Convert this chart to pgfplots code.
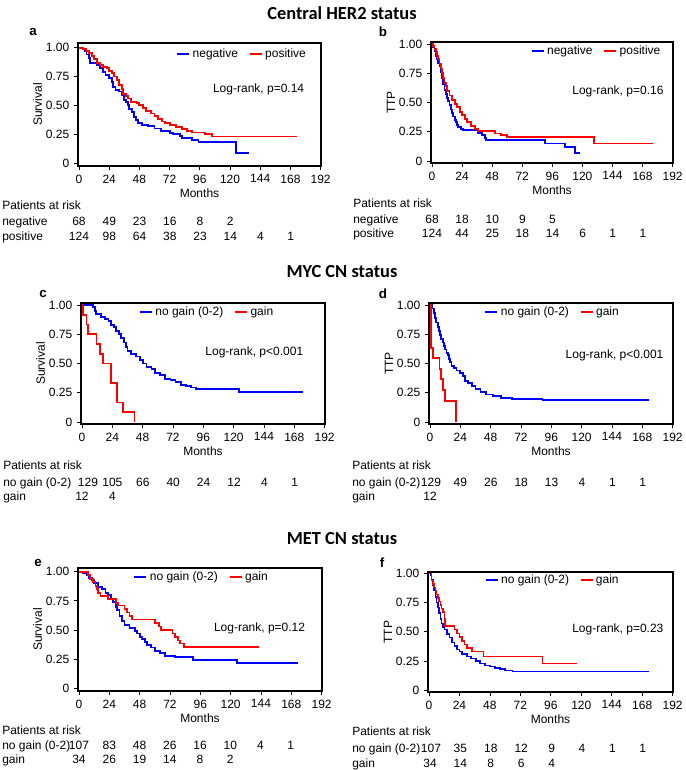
\documentclass[border=0pt]{standalone}
\usepackage{pgfplots}
\pgfplotsset{compat=1.18}
\usepackage{fontspec}
\setmainfont{Liberation Sans}
\newfontfamily\titlefont{Carlito}
\newcommand\tf{\fontsize{9}{10}\selectfont}

\pgfplotsset{km/.style={scale only axis, anchor=south west, const plot, no markers,
  xmin=-0.8, xmax=192.3, ymin=-0.025, ymax=1.04,
  xtick={0,24,...,192}, xticklabels={0,24,48,72,96,120,144,168,192},
  ytick={0,0.25,0.5,0.75,1}, yticklabels={0,0.25,0.50,0.75,1.00},
  tick align=outside, xtick pos=left, ytick pos=left, major tick length=3pt,
  axis line style={line width=0.9pt}, tick style={black,line width=0.6pt},
  tick label style={font=\tf}, label style={font=\tf}, xlabel=Months,
  ylabel shift=-4pt, xlabel shift=-3pt,
  legend cell align=left,
  legend style={draw=none, fill=none, font=\tf, legend columns=2, anchor=east, inner sep=0pt,
    /tikz/every even column/.append style={column sep=6pt}},
  legend image code/.code={\draw[#1] (0pt,0pt) -- (9pt,0pt);}}}

\newcommand\riskrow[4]{\foreach \v [count=\i from 0] in {#4}{\node[font=\tf,inner sep=0pt,text height=1.5ex,text depth=0.25ex] at ({#1+#2*\i},#3) {\v};}}
\newcommand\rlab[3]{\node[font=\tf,inner sep=0pt,anchor=west,text height=1.5ex,text depth=0.25ex] at (#1,#2) {#3};}

\begin{document}
\begin{tikzpicture}[x=0.75pt,y=-0.75pt]
\path[use as bounding box] (0,0) rectangle (685,770);

% section titles
\node[font=\titlefont\bfseries\fontsize{13.8}{15}\selectfont] at (342,13) {Central HER2 status};
\node[font=\titlefont\bfseries\fontsize{13.8}{15}\selectfont] at (342,272) {MYC CN status};
\node[font=\titlefont\bfseries\fontsize{13.8}{15}\selectfont] at (342,539) {MET CN status};

% panel letters
\node[font=\bfseries\fontsize{10}{12}\selectfont] at (33,32) {a};
\node[font=\bfseries\fontsize{10}{12}\selectfont] at (383,32) {b};
\node[font=\bfseries\fontsize{10}{12}\selectfont] at (43,294) {c};
\node[font=\bfseries\fontsize{10}{12}\selectfont] at (383,294) {d};
\node[font=\bfseries\fontsize{10}{12}\selectfont] at (38,563) {e};
\node[font=\bfseries\fontsize{10}{12}\selectfont] at (382,563) {f};

% ---------- a
\begin{axis}[km, at={(58.5pt,-124.5pt)}, width=182.25pt, height=92.25pt, ylabel=Survival,
  legend style={at={(0.95,0.91)}}]
\addplot[blue, line width=1.4pt] coordinates {(0,1) (3,0.985) (5,0.97) (6,0.94) (8,0.91) (9,0.87) (14,0.85) (17,0.82) (19,0.79) (21,0.76) (24,0.74) (26,0.70) (27,0.66) (29,0.635) (32,0.62) (34,0.59) (36,0.55) (37,0.53) (39,0.50) (40,0.47) (42,0.44) (44,0.40) (45,0.37) (47,0.35) (50,0.33) (55,0.32) (60,0.30) (65,0.28) (72,0.26) (75,0.25) (80,0.235) (82,0.22) (90,0.20) (95,0.185) (124.5,0.09) (135,0.09)};
\addlegendentry{negative}
\addplot[red, line width=1.4pt] coordinates {(0,1) (3,0.99) (6,0.97) (8,0.955) (10,0.93) (12,0.90) (14,0.87) (17,0.85) (19,0.835) (22,0.82) (24,0.80) (26,0.78) (28,0.75) (30,0.72) (32,0.68) (34,0.64) (35,0.60) (37,0.58) (39,0.56) (41,0.53) (46,0.52) (48,0.50) (51,0.48) (53,0.45) (57,0.43) (60,0.41) (63,0.38) (66,0.36) (68,0.345) (72,0.33) (77,0.31) (82,0.295) (86,0.28) (90,0.265) (100,0.25) (106,0.23) (173.5,0.23)};
\addlegendentry{positive}
\node[anchor=east,font=\tf] at (rel axis cs:0.95,0.62) {Log-rank, p=0.14};
\end{axis}
\rlab{2}{205}{Patients at risk}
\rlab{2}{221}{negative}
\rlab{2}{236}{positive}
\riskrow{79}{30.25}{221}{68,49,23,16,8,2}
\riskrow{79}{30.25}{236}{124,98,64,38,23,14,4,1}

% ---------- b
\begin{axis}[km, at={(323.25pt,-122.25pt)}, width=181.5pt, height=90.75pt, ymin=-0.017, ymax=1.017, ylabel=TTP,
  legend style={at={(0.96,0.926)}}]
\addplot[blue, line width=1.4pt] coordinates {(0,1) (1,0.97) (2,0.94) (3,0.90) (4,0.87) (5,0.84) (6,0.81) (7,0.76) (8,0.71) (9,0.66) (10,0.61) (11,0.57) (12,0.54) (13,0.51) (14,0.48) (15,0.44) (16,0.41) (17,0.38) (18,0.35) (19,0.33) (20,0.31) (21,0.29) (23,0.27) (25,0.265) (37,0.24) (40,0.22) (42,0.20) (43,0.18) (90,0.15) (106,0.12) (114,0.065) (118,0.065)};
\addlegendentry{negative}
\addplot[red, line width=1.4pt] coordinates {(0,1) (1,0.98) (2,0.96) (3,0.93) (4,0.90) (5,0.87) (6,0.83) (7,0.79) (8,0.75) (9,0.71) (10,0.67) (11,0.64) (12,0.60) (14,0.56) (16,0.52) (18,0.49) (20,0.46) (22,0.42) (24,0.39) (26,0.36) (28,0.33) (31,0.30) (34,0.27) (37,0.26) (45,0.255) (50,0.235) (55,0.22) (60,0.205) (129.5,0.15) (176,0.15)};
\addlegendentry{positive}
\node[anchor=east,font=\tf] at (rel axis cs:0.98,0.59) {Log-rank, p=0.16};
\end{axis}
\rlab{353}{203}{Patients at risk}
\rlab{353}{219}{negative}
\rlab{353}{233}{positive}
\riskrow{432}{30.13}{219}{68,18,10,9,5}
\riskrow{432}{30.13}{233}{124,44,25,18,14,6,1,1}

% ---------- c
\begin{axis}[km, at={(60.75pt,-318pt)}, width=183pt, height=90.75pt, ymin=-0.017, ymax=1.017, ylabel=Survival,
  legend style={at={(0.80,0.926)}}]
\addplot[blue, line width=1.4pt] coordinates {(0,1) (9,0.98) (10,0.95) (11,0.92) (15,0.90) (18,0.88) (21,0.86) (23,0.83) (25,0.81) (27,0.78) (29,0.75) (31,0.72) (33,0.68) (35,0.64) (36,0.61) (39,0.58) (43,0.56) (46,0.53) (48,0.50) (51,0.47) (55,0.45) (58,0.42) (62,0.40) (66,0.37) (70,0.36) (74,0.34) (78,0.32) (82,0.31) (86,0.295) (90,0.28) (124.5,0.255) (174.5,0.255)};
\addlegendentry{no gain (0-2)}
\addplot[red, line width=1.4pt] coordinates {(0,1) (0.5,0.917) (3.5,0.833) (5,0.75) (11.5,0.667) (14.5,0.583) (16.5,0.5) (23,0.333) (28,0.167) (32.5,0.083) (41.5,0)};
\addlegendentry{gain}
\node[anchor=east,font=\tf] at (rel axis cs:0.93,0.59) {Log-rank, p<0.001};
\end{axis}
\rlab{3}{465}{Patients at risk}
\rlab{3}{482}{no gain (0-2)}
\rlab{3}{496}{gain}
\node[font=\tf,inner sep=0pt,text height=1.5ex,text depth=0.25ex] at (88,482) {129};
\riskrow{112.4}{30.4}{482}{105,66,40,24,12,4,1}
\riskrow{82}{30.4}{496}{12,4}

% ---------- d
\begin{axis}[km, at={(321.75pt,-318pt)}, width=183pt, height=90.75pt, ymin=-0.017, ymax=1.017, ylabel=TTP,
  legend style={at={(0.79,0.926)}}]
\addplot[blue, line width=1.4pt] coordinates {(0,1) (2,0.97) (3,0.93) (4,0.89) (5,0.85) (6,0.81) (7,0.78) (8,0.74) (9,0.71) (10,0.68) (11,0.65) (12,0.62) (13,0.59) (14,0.57) (15,0.54) (16,0.51) (17,0.48) (19,0.46) (21,0.44) (24,0.42) (26,0.39) (28,0.35) (30,0.33) (33,0.31) (36,0.28) (40,0.26) (44,0.235) (50,0.22) (56,0.205) (65,0.196) (89,0.185) (173.5,0.185)};
\addlegendentry{no gain (0-2)}
\addplot[red, line width=1.4pt] coordinates {(0,1) (1,0.636) (2.5,0.545) (7.5,0.455) (8.5,0.364) (10,0.273) (12,0.182) (20.5,0)};
\addlegendentry{gain}
\node[anchor=east,font=\tf] at (rel axis cs:0.98,0.57) {Log-rank, p<0.001};
\end{axis}
\rlab{352}{465}{Patients at risk}
\rlab{352}{482}{no gain (0-2)}
\rlab{352}{496}{gain}
\node[font=\tf,inner sep=0pt,text height=1.5ex,text depth=0.25ex] at (431,482) {129};
\riskrow{460.4}{30.4}{482}{49,26,18,13,4,1,1}
\riskrow{430}{30.4}{496}{12}

% ---------- e
\begin{axis}[km, at={(58.5pt,-518.25pt)}, width=183pt, height=92.25pt, ymin=-0.023, ymax=1.032, ylabel=Survival,
  legend style={at={(0.79,0.927)}}]
\addplot[blue, line width=1.4pt] coordinates {(0,1) (3,0.99) (6,0.97) (8,0.95) (10,0.93) (12,0.90) (15,0.87) (18,0.85) (21,0.82) (23,0.80) (25,0.77) (27,0.74) (29,0.70) (30,0.67) (32,0.62) (34,0.58) (36,0.54) (40,0.52) (44,0.49) (46,0.47) (48,0.44) (50,0.42) (52,0.40) (54,0.37) (57,0.35) (60,0.32) (64,0.30) (68,0.28) (76,0.27) (82,0.265) (90,0.245) (125,0.215) (173.5,0.215)};
\addlegendentry{no gain (0-2)}
\addplot[red, line width=1.4pt] coordinates {(0,1) (7,0.97) (9,0.94) (11,0.91) (13,0.88) (14,0.85) (15,0.82) (17,0.79) (23,0.765) (29,0.735) (31,0.71) (36,0.68) (38,0.65) (40,0.62) (42,0.59) (60,0.56) (63,0.53) (65,0.50) (74,0.47) (76,0.44) (78,0.41) (80,0.385) (83,0.355) (142.5,0.355)};
\addlegendentry{gain}
\node[anchor=east,font=\tf] at (rel axis cs:0.95,0.51) {Log-rank, p=0.12};
\end{axis}
\rlab{2}{730}{Patients at risk}
\rlab{2}{745}{no gain (0-2)}
\rlab{2}{759}{gain}
\riskrow{79}{30.25}{745}{107,83,48,26,16,10,4,1}
\riskrow{79}{30.25}{759}{34,26,19,14,8,2}

% ---------- f
\begin{axis}[km, at={(321pt,-519pt)}, width=183.75pt, height=90pt, ymin=-0.017, ymax=1.014, ylabel=TTP,
  legend style={at={(0.79,0.933)}}]
\addplot[blue, line width=1.1pt] coordinates {(0,1) (1,0.99) (2,0.95) (3,0.90) (4,0.86) (5,0.80) (6,0.75) (7,0.71) (8,0.66) (9,0.61) (10,0.57) (11,0.54) (12,0.52) (14,0.48) (16,0.45) (18,0.41) (20,0.38) (22,0.35) (24,0.33) (26,0.31) (30,0.29) (33,0.27) (37,0.25) (40,0.23) (44,0.21) (48,0.20) (52,0.19) (56,0.18) (60,0.17) (66,0.157) (173.5,0.157)};
\addlegendentry{no gain (0-2)}
\addplot[red, line width=1.1pt] coordinates {(0,1) (2,0.94) (3,0.91) (4,0.88) (5,0.85) (6,0.82) (7,0.79) (8,0.76) (9,0.73) (10,0.70) (11,0.67) (12,0.61) (12.5,0.55) (20,0.52) (22,0.485) (24,0.455) (26,0.42) (28,0.39) (30,0.36) (34,0.33) (43,0.29) (89.5,0.23) (117,0.23)};
\addlegendentry{gain}
\node[anchor=east,font=\tf] at (rel axis cs:0.98,0.52) {Log-rank, p=0.23};
\end{axis}
\rlab{352}{731}{Patients at risk}
\rlab{352}{748}{no gain (0-2)}
\rlab{352}{763}{gain}
\node[font=\tf,inner sep=0pt,text height=1.5ex,text depth=0.25ex] at (431,748) {107};
\riskrow{460.4}{30.4}{748}{35,18,12,9,4,1,1}
\riskrow{430}{30.4}{763}{34,14,8,6,4}
\end{tikzpicture}
\end{document}
